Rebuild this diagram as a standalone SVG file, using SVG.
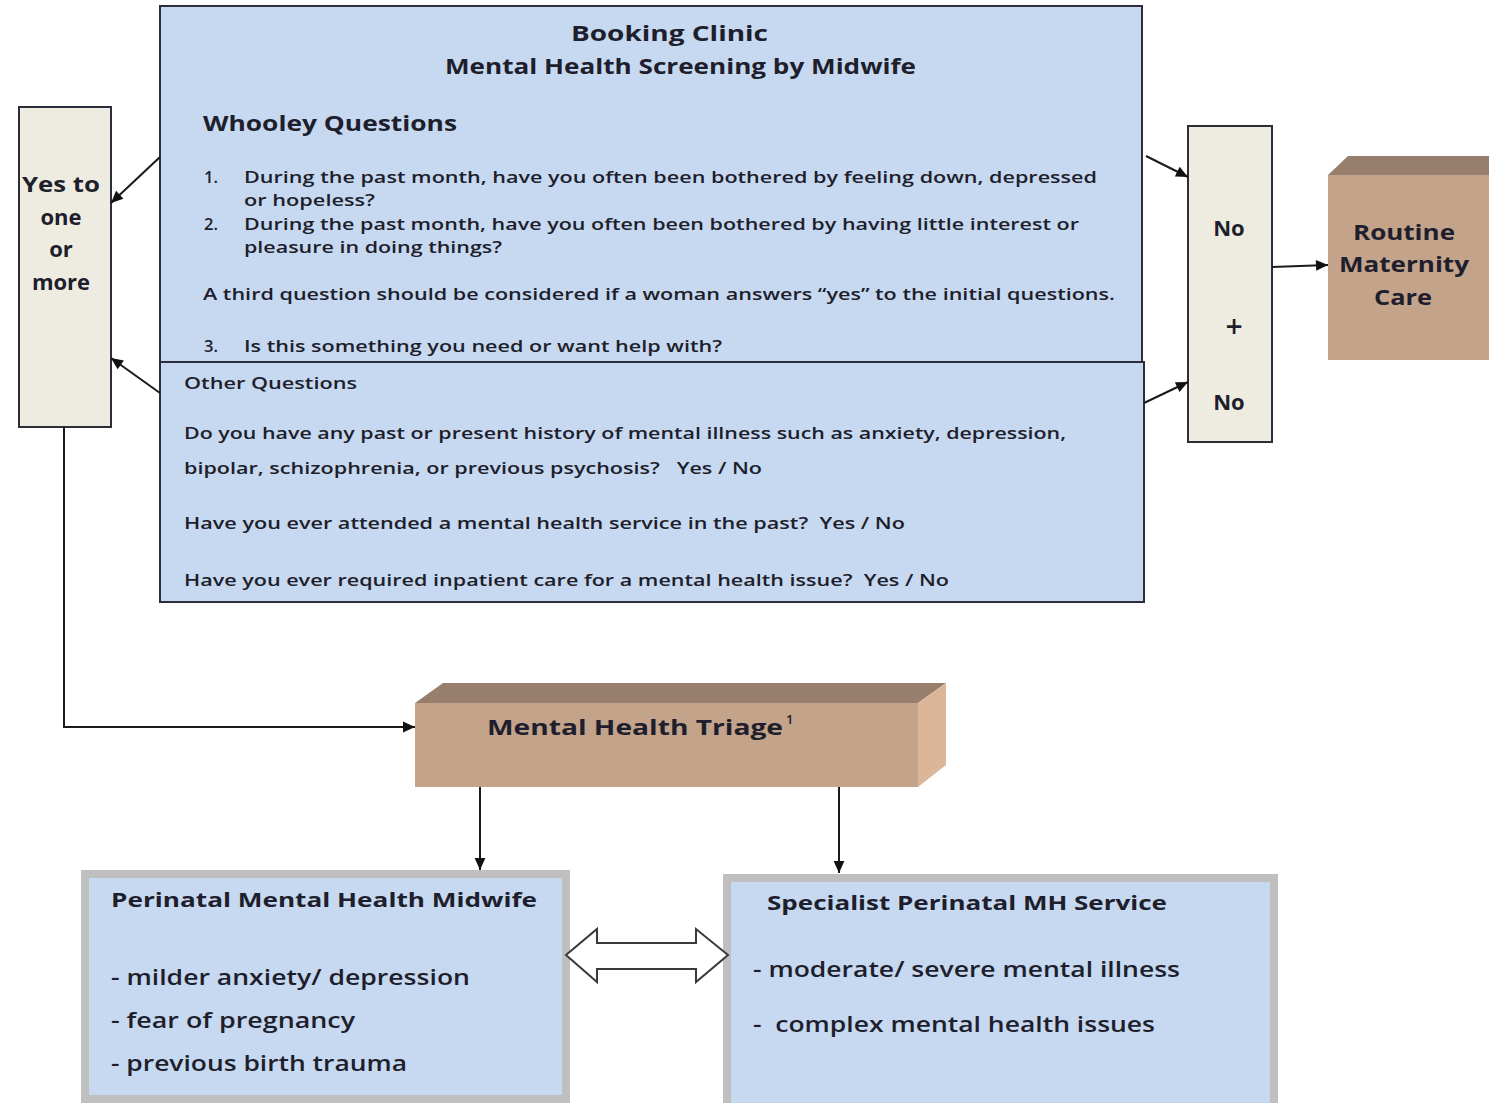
<svg xmlns="http://www.w3.org/2000/svg" width="1489" height="1103" viewBox="0 0 1489 1103">
<defs>
<style>
text{font-family:"Open Sans","Liberation Sans",sans-serif;font-weight:600;fill:#1e1e2c}
.b{font-weight:700}
.box{fill:#c6d9f0;stroke:#2e2e3a;stroke-width:2}
.tan{fill:#eeece1;stroke:#2e2e3a;stroke-width:2}
.gb{fill:#c6d9f0;stroke:#bfbfbf;stroke-width:8}
.conn{fill:none;stroke:#1a1a1a;stroke-width:2}
.front{fill:#c3a38a}
.top{fill:#987f6d}
.side{fill:#dbb699}
</style>
<marker id="ah2" viewBox="0 0 10 10" refX="10" refY="5" markerWidth="14" markerHeight="12" orient="auto" markerUnits="userSpaceOnUse">
<path d="M0,0.5 L10,5 L0,9.5 z" fill="#111"/>
</marker>
</defs>
<rect width="1489" height="1103" fill="#ffffff"/>

<g id="screening">
<rect class="box" x="160" y="6" width="982" height="356"/>
<text class="b" x="571" y="41" font-size="22" textLength="197" lengthAdjust="spacingAndGlyphs">Booking Clinic</text>
<text class="b" x="445" y="74" font-size="22" textLength="471" lengthAdjust="spacingAndGlyphs">Mental Health Screening by Midwife</text>
<text class="b" x="203" y="131" font-size="21" textLength="254" lengthAdjust="spacingAndGlyphs">Whooley Questions</text>
<text x="204" y="183" font-size="16.5">1.</text>
<text x="244" y="183" font-size="16.5" textLength="853" lengthAdjust="spacingAndGlyphs">During the past month, have you often been bothered by feeling down, depressed</text>
<text x="244" y="206" font-size="16.5" textLength="131" lengthAdjust="spacingAndGlyphs">or hopeless?</text>
<text x="204" y="230" font-size="16.5">2.</text>
<text x="244" y="230" font-size="16.5" textLength="835" lengthAdjust="spacingAndGlyphs">During the past month, have you often been bothered by having little interest or</text>
<text x="244" y="253" font-size="16.5" textLength="258" lengthAdjust="spacingAndGlyphs">pleasure in doing things?</text>
<text x="203" y="300" font-size="16.5" textLength="912" lengthAdjust="spacingAndGlyphs">A third question should be considered if a woman answers “yes” to the initial questions.</text>
<text x="204" y="352" font-size="16.5">3.</text>
<text x="244" y="352" font-size="16.5" textLength="478" lengthAdjust="spacingAndGlyphs">Is this something you need or want help with?</text>
</g>

<g id="other-questions">
<rect class="box" x="160" y="362" width="984" height="240"/>
<text x="184" y="389" font-size="16" textLength="173" lengthAdjust="spacingAndGlyphs">Other Questions</text>
<text x="184" y="439" font-size="16.5" textLength="882" lengthAdjust="spacingAndGlyphs">Do you have any past or present history of mental illness such as anxiety, depression,</text>
<text x="184" y="474" font-size="16.5" textLength="578" lengthAdjust="spacingAndGlyphs" xml:space="preserve">bipolar, schizophrenia, or previous psychosis?   Yes / No</text>
<text x="184" y="529" font-size="16.5" textLength="721" lengthAdjust="spacingAndGlyphs" xml:space="preserve">Have you ever attended a mental health service in the past?  Yes / No</text>
<text x="184" y="586" font-size="16.5" textLength="765" lengthAdjust="spacingAndGlyphs" xml:space="preserve">Have you ever required inpatient care for a mental health issue?  Yes / No</text>
</g>

<g id="yes-box">
<rect class="tan" x="19" y="107" width="92" height="320"/>
<text class="b" x="22" y="192" font-size="22" textLength="78" lengthAdjust="spacingAndGlyphs">Yes to</text>
<text class="b" x="61" y="225" font-size="22" text-anchor="middle">one</text>
<text class="b" x="61" y="257" font-size="22" text-anchor="middle">or</text>
<text class="b" x="61" y="290" font-size="22" text-anchor="middle">more</text>
</g>

<g id="no-box">
<rect class="tan" x="1188" y="126" width="84" height="316"/>
<text class="b" x="1229" y="236" font-size="22" text-anchor="middle">No</text>
<text x="1234" y="337" font-size="30" font-weight="700" text-anchor="middle">+</text>
<text class="b" x="1229" y="410" font-size="22" text-anchor="middle">No</text>
</g>

<g id="routine-care">
<polygon class="top" points="1328,175 1348,156 1489,156 1489,175"/>
<rect class="front" x="1328" y="175" width="161" height="185"/>
<text class="b" x="1353" y="240" font-size="22" textLength="102" lengthAdjust="spacingAndGlyphs">Routine</text>
<text class="b" x="1339" y="272" font-size="22" textLength="130" lengthAdjust="spacingAndGlyphs">Maternity</text>
<text class="b" x="1374" y="305" font-size="22" textLength="58" lengthAdjust="spacingAndGlyphs">Care</text>
</g>

<g id="triage">
<polygon class="top" points="415,703 443,683 946,683 918,703"/>
<polygon class="side" points="918,703 946,683 946,765 918,787"/>
<rect class="front" x="415" y="703" width="503" height="84"/>
<text class="b" x="487" y="735" font-size="22" textLength="296" lengthAdjust="spacingAndGlyphs">Mental Health Triage</text>
<text x="786" y="724" font-size="13" font-weight="700">1</text>
</g>

<g id="pmh-midwife">
<rect class="gb" x="85" y="874" width="481" height="225"/>
<text class="b" x="111" y="907" font-size="20" textLength="426" lengthAdjust="spacingAndGlyphs">Perinatal Mental Health Midwife</text>
<text x="111" y="985" font-size="21" textLength="359" lengthAdjust="spacingAndGlyphs">- milder anxiety/ depression</text>
<text x="111" y="1028" font-size="21" textLength="244" lengthAdjust="spacingAndGlyphs">- fear of pregnancy</text>
<text x="111" y="1071" font-size="21" textLength="296" lengthAdjust="spacingAndGlyphs">- previous birth trauma</text>
</g>

<g id="specialist">
<rect class="gb" x="727" y="878" width="547" height="229"/>
<text class="b" x="767" y="910" font-size="20" textLength="400" lengthAdjust="spacingAndGlyphs">Specialist Perinatal MH Service</text>
<text x="753" y="977" font-size="21" textLength="427" lengthAdjust="spacingAndGlyphs">- moderate/ severe mental illness</text>
<text x="753" y="1032" font-size="21" textLength="402" lengthAdjust="spacingAndGlyphs" xml:space="preserve">-  complex mental health issues</text>
</g>

<g id="connectors">
<line class="conn" x1="160" y1="157" x2="111" y2="203" marker-end="url(#ah2)"/>
<line class="conn" x1="160" y1="393" x2="111" y2="358" marker-end="url(#ah2)"/>
<line class="conn" x1="1146" y1="156" x2="1188" y2="177" marker-end="url(#ah2)"/>
<line class="conn" x1="1144" y1="403" x2="1188" y2="382" marker-end="url(#ah2)"/>
<line class="conn" x1="1272" y1="267" x2="1328" y2="265" marker-end="url(#ah2)"/>
<polyline class="conn" points="64,427 64,727 415,727" marker-end="url(#ah2)"/>
<line class="conn" x1="480" y1="787" x2="480" y2="870" marker-end="url(#ah2)"/>
<line class="conn" x1="839" y1="787" x2="839" y2="873" marker-end="url(#ah2)"/>
<polygon points="566,955 597,929 597,943 696,943 696,929 728,955 696,982 696,969 597,969 597,982" fill="#ffffff" stroke="#3a3a3a" stroke-width="2" stroke-linejoin="miter"/>
</g>
</svg>
